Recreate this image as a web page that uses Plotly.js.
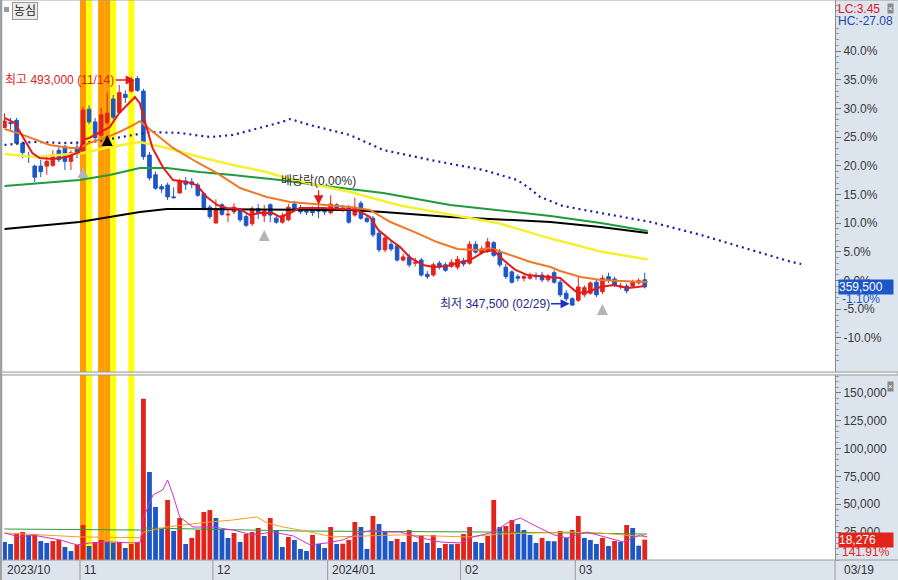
<!DOCTYPE html>
<html><head><meta charset="utf-8">
<script src="https://cdn.plot.ly/plotly-3.0.1.min.js"></script>
<style>html,body{margin:0;padding:0;background:#fff}#chart{width:898px;height:580px}</style>
</head><body><div id="chart"></div>
<script>
// ---- trading days (2023/10/13 ~ 2024/03/19) ----
const octDays=[13,16,17,18,19,20,23,24,25,26,27,30,31];
const novDays=[1,2,3,6,7,8,9,10,13,14,15,16,17,20,21,22,23,24,27,28,29,30];
const decDays=[1,4,5,6,7,8,11,12,13,14,15,18,19,20,21,22,26,27,28];
const janDays=[2,3,4,5,8,9,10,11,12,15,16,17,18,19,22,23,24,25,26,29,30,31];
const febDays=[1,2,5,6,7,8,13,14,15,16,19,20,21,22,23,26,27,28,29];
const marDays=[4,5,6,7,8,11,12,13,14,15,18,19];
const monthLabels=['2023/10','11','12','2024/01','02','03'];
const monthNums=[10,11,12,1,2,3];
const monthDays=[octDays,novDays,decDays,janDays,febDays,marDays];

// ---- daily prices (KRW) ----
const openP=[
460500,463500,465000,450500,442500,436000,436000,436000,436500,446000,
448500,439000,448000,445500,472000,464000,455500,463500,478500,470000,
481500,483500,491500,483500,443000,430500,423000,424000,416500,419000,
426500,426000,424000,418500,410000,400000,411500,405000,407000,408000,
404000,399500,409000,404500,411500,403000,400500,402000,412000,409500,
407500,409000,408000,408000,406500,411500,409500,410000,405000,412500,
403000,403000,393500,383000,386500,385500,376500,378500,374500,376500,
367500,367000,374500,373500,372500,372000,376000,374500,386500,381000,
382000,387500,381500,372000,369000,366000,365000,365000,366500,367000,
364000,368500,362500,355500,352000,351000,354500,355500,362500,356500,
366000,364500,359500,360000,360000,362000,364000];
const highP=[
469500,466500,466500,451500,445000,437000,440000,443000,446000,448000,
449500,446000,451500,473500,474500,466500,473000,482500,481000,487500,
484000,492500,493000,485000,445000,432500,424500,425500,422500,428000,
429000,428500,425500,419500,411500,415000,412500,409500,412500,409500,
405500,410500,412000,411500,412500,404500,406500,412000,414000,411500,
410000,410500,411500,410000,417500,412500,411500,411500,416000,414000,
405000,404500,395000,392000,388500,386500,380500,380500,378000,378000,
369500,375000,376000,375000,377000,379000,378000,388500,388500,385500,
390500,388500,383500,374000,370000,367500,367500,368500,368500,369000,
367500,370000,364000,357500,353000,366000,360500,363000,364500,367000,
368500,366000,362000,361500,364000,365000,368500];
const lowP=[
460000,459000,449500,441000,438000,426000,429000,430500,435500,438500,
433500,433500,441000,445000,462500,452500,454500,462000,465500,469000,
476000,482500,483000,440000,427000,421000,419000,414500,415500,418500,
421000,422000,416500,408000,402500,399500,404500,400500,405500,400500,
397500,398000,402500,400500,400500,399500,399500,401000,407000,405500,
405000,404500,403000,405000,405500,407500,407000,399500,404000,402000,
400000,391000,381500,381500,382000,375500,375500,372000,372500,366000,
364500,366000,370500,369000,371500,370500,372500,373500,380500,380000,
381000,378500,372000,364500,361500,363000,363000,364000,364000,362500,
362500,361500,353000,350500,347500,350000,353000,354500,353000,355000,
362000,359500,358000,355500,359000,361000,358500];
const closeP=[
464500,463000,450500,444500,442000,429000,432500,439000,443000,440000,
439000,444500,443500,471500,464000,454000,468500,469500,467000,482500,
479500,490500,484000,442000,428500,422000,421500,416500,416000,426500,
424500,424500,417500,409500,404000,409000,405500,405500,410000,402000,
398500,409000,406500,407500,405000,400500,404500,410000,408000,407000,
407000,406500,407500,407000,412000,409000,409000,400500,410000,403000,
401000,392500,383000,390500,383500,376500,378500,373500,375000,367000,
366000,373500,372000,370000,375000,377000,374000,386500,381500,383500,
388000,379500,373500,366000,362500,365000,366000,366000,366000,364000,
366500,362500,354500,352000,348000,359500,359000,362000,354500,365000,
363500,360500,360000,357000,362500,363500,359500];
const volume=[
16200,14400,24000,25100,22400,22900,17000,15300,17000,18000,
11700,8000,13500,31400,12600,16200,18000,16200,15300,16200,
10800,14400,16200,144600,79000,47600,28700,53900,26000,37700,
14400,19800,26900,43100,44900,37700,27800,19800,24200,16200,
23300,25100,28700,21600,37700,26900,11700,20700,18000,9900,
8100,22500,14400,10800,29600,14400,14600,18000,34100,29600,
9900,39500,32300,25100,17000,18900,16200,26900,16200,21600,
15300,22500,10800,14400,14200,14500,23300,29600,16200,15300,
21600,53900,29600,30500,35900,32300,26900,22500,15300,19800,
17000,16800,26000,19800,26900,39500,19800,18000,14400,19800,
12600,17000,16200,31400,28700,12879,18276];

// ---- indicator lines (bar position, value) ----
const ma5X=[0,1.7,4.6,5.8,8,10.3,12.4,13,14,15.8,17.4,19,20,21.6,22.4,23.4,24.5,26.2,27.9,30.2,31.8,33.5,35.2,36.8,39,40.6,42.3,44.4,45.6,47.3,48.9,52.7,58.4,60.5,61.9,63.9,65.5,67.2,69.3,71,73.3,75,77.1,79.3,80.9,82.6,84.6,86.6,89.9,92,93.7,94.9,96.5,98.7,100.8,103.2,104.8,106];
const ma5Y=[466500,463300,444300,441100,440500,441800,444900,452600,453800,457600,460700,469600,473400,479700,475900,462000,447500,435400,427200,426000,424000,416400,411400,409500,408800,405000,406300,406300,403800,406300,409500,409500,408200,403800,395500,389200,384800,377800,373400,372100,372700,374600,376500,381600,382900,376500,370200,367000,365800,365100,359400,355600,356300,359400,360700,358800,359400,360100];
const ma20X=[0,2.5,7.5,11,12.4,14,17,19,21.3,22.4,23.6,25.2,27.9,31.8,35.2,39,43.4,47.3,51.7,57.2,60.5,63.9,68.3,71.6,75,78.3,80.4,83.7,87.1,90.4,92,95.4,98.7,102,106.5];
const ma20Y=[459500,456600,449400,447500,447500,450600,454400,457600,462000,464500,460700,455700,447500,438600,431600,422100,416400,413300,412000,410100,408200,400600,393600,387900,383500,382900,384100,379700,375300,372100,369600,365800,363900,363200,362600];
const ma60X=[0,5,13,17.4,22.4,26.9,32.3,37.8,43.4,46,51.7,57.2,65.5,73.8,82,90.4,98.7,106.5];
const ma60Y=[443700,441800,444300,448100,451300,447500,441800,436700,432300,429100,424000,419600,411000,405300,399600,390100,381900,376900];
const ma120X=[0,12.4,17.4,22.4,26.9,32.3,37.8,45.6,51.7,62.7,73.8,84.9,90.4,98.7,106.5];
const ma120Y=[423400,427200,430400,434800,434800,432300,430400,427200,424000,419000,411400,407000,404400,400000,394900];
const ma240X=[0,12.4,22.4,26.9,32.3,57.2,62.7,73.8,90.4,98.7,106.5];
const ma240Y=[396200,400600,406900,408800,408800,408200,406900,403800,400600,397400,393600];
const leadX=[0,4.6,10.3,14.6,21.3,24.1,29,34,37.8,42.3,46,47.3,50.6,57.2,62.7,70.5,79.3,84.9,86.6,88.7,90.4,92.4,98.7,107,115.3,123.7,130.3,131.9];
const leadY=[449400,451300,450600,451300,455700,457600,457000,454400,455700,460100,464000,465800,462000,455700,446200,439900,433500,427200,422800,416400,414000,410800,406300,400600,392400,382900,375300,374000];
const vma5X=[0,2.5,4.7,9.2,12,14.2,17.5,21.3,22.5,23,24.6,26.2,27,28,29,31.2,34.5,37.8,41.1,44.4,47.8,49,50.6,53.4,56,58.8,61,63.3,65.5,68.3,72.1,75.4,77.6,81,83.2,85.4,87.6,91,93.1,96.4,99.8,102.4,105.3,106.4];
const vma5Y=[24200,20700,22400,18000,13500,15300,16200,15300,16000,38000,58400,62900,71800,56600,38600,29600,29600,26900,22500,25100,21600,18000,13500,15300,18000,24200,26900,25100,25100,20700,16200,15300,20700,25100,33200,37700,31400,22500,19800,25100,19800,16200,22500,20700];
const vma20X=[0,12.5,22.4,23,26.9,32.3,37.8,41.8,43.5,46.1,49,54.4,65.5,76.6,82,93.1,98.6,106.4];
const vma20Y=[24200,20700,20000,25100,29600,33200,35900,38600,33200,29600,26900,20700,22500,20700,23300,25100,24200,20700];
const vma60X=[0,22.4,23.5,49,83,106.4];
const vma60Y=[27800,26900,28700,26000,25000,23300];

// ---- signals / highlight bars ----
const orangeBars=[13,16,17];
const yellowBars=[14,18,21];
const grayUpX=[13,43,99];
const grayUpY=[435400,395500,348700];
const blackUpX=[17];
const blackUpY=[455700];
const exDivBar=52;

// ---- derived ----
const RED='#e3241b', BLUE='#1d57c7';
const n=closeP.length;
const idx=closeP.map((_,i)=>i);
const dates=[]; const monthStart=[];
monthDays.forEach((days,m)=>{monthStart.push(dates.length);days.forEach(d=>dates.push(String(monthNums[m]).padStart(2,'0')+'/'+String(d).padStart(2,'0')));});
const base=closeP[n-2], last=closeP[n-1];
const maxH=Math.max(...highP), hiIdx=highP.indexOf(maxH);
const minL=Math.min(...lowP), loIdx=lowP.indexOf(minL);
const fmt=v=>v.toLocaleString('en-US');
const volColors=volume.map((v,i)=>(i>0&&v>volume[i-1])?RED:BLUE);

const W=832,H=560;
const XMIN=-0.25, XMAX=137.5;
const px=p=>(p-3)/W;      // pixel x -> paper
const py=p=>1-p/H;        // pixel y -> paper
const xToPaper=v=>(v-XMIN)/(XMAX-XMIN);

const pcts=[40,35,30,25,20,15,10,5,0,-5,-10];
const tickvals=pcts.map(p=>base*(1+p/100));
const ticktext=pcts.map(p=>p.toFixed(1)+'%');
const minorVals=[];for(let p=-16;p<=49;p++){if(p%5!==0)minorVals.push(base*(1+p/100));}

const F='Liberation Sans, Arial, Noto Sans CJK KR, sans-serif';

const line=(x,y,color,width,dash,ax)=>({type:'scatter',mode:'lines',x,y,line:{color,width,dash:dash||'solid'},hoverinfo:'skip',xaxis:ax?'x2':'x',yaxis:ax?'y2':'y'});

const traces=[
 {type:'candlestick',x:idx,open:openP,high:highP,low:lowP,close:closeP,
  increasing:{line:{color:RED,width:1},fillcolor:RED},
  decreasing:{line:{color:BLUE,width:1},fillcolor:BLUE},
  whiskerwidth:0,hoverinfo:'skip',xaxis:'x',yaxis:'y'},
 line(leadX,leadY,'#1c1ca8',2.2,'2px,4px'),
 line(ma240X,ma240Y,'#000000',2),
 line(ma120X,ma120Y,'#1f9a3c',2),
 line(ma60X,ma60Y,'#f6f032',2.5),
 line(ma20X,ma20Y,'#f07828',2),
 line(ma5X,ma5Y,'#e41a1a',2),
 {type:'scatter',mode:'markers',x:grayUpX,y:grayUpY,marker:{symbol:'arrow-up',size:11,color:'#b4b4b4'},hoverinfo:'skip'},
 {type:'scatter',mode:'markers',x:blackUpX,y:blackUpY,marker:{symbol:'arrow-up',size:11,color:'#000'},hoverinfo:'skip'},
 {type:'bar',x:idx,y:volume,width:0.8,marker:{color:volColors,line:{width:0}},hoverinfo:'skip',xaxis:'x2',yaxis:'y2'},
 line(vma60X,vma60Y,'#2e9a40',1,null,true),
 line(vma20X,vma20Y,'#f0a020',1,null,true),
 line(vma5X,vma5Y,'#d030c8',1,null,true)
];

const shapes=[];
orangeBars.forEach(b=>shapes.push({type:'rect',xref:'x',yref:'paper',x0:b-0.5,x1:b+0.5,y0:0,y1:1,fillcolor:'#ff9c00',line:{width:0},layer:'below'}));
yellowBars.forEach(b=>shapes.push({type:'rect',xref:'x',yref:'paper',x0:b-0.5,x1:b+0.5,y0:0,y1:1,fillcolor:'#ffff10',line:{width:0},layer:'below'}));
// pane gap
shapes.push({type:'rect',xref:'paper',yref:'paper',x0:px(0),x1:px(898),y0:py(375),y1:py(372),fillcolor:'#f2f2f2',line:{color:'#9a9a9a',width:1}});
// bottom strip top line & right separator
shapes.push({type:'line',xref:'paper',yref:'paper',x0:px(0),x1:px(898),y0:0,y1:0,line:{color:'#9a9a9a',width:1}});
shapes.push({type:'line',xref:'paper',yref:'paper',x0:1,x1:1,y0:py(580),y1:0,line:{color:'#9a9a9a',width:1}});
// left border
shapes.push({type:'line',xref:'paper',yref:'paper',x0:px(1),x1:px(1),y0:py(580),y1:1,line:{color:'#a0a0a0',width:2}});
// top border
shapes.push({type:'line',xref:'paper',yref:'paper',x0:px(0),x1:px(898),y0:1,y1:1,line:{color:'#a0a0a0',width:1}});
// month separators
monthStart.forEach((s,k)=>{if(k>0)shapes.push({type:'line',xref:'paper',yref:'paper',x0:xToPaper(s-0.5),x1:xToPaper(s-0.5),y0:py(580),y1:0,line:{color:'#9a9a9a',width:1}});});
// tiny icon at top left
shapes.push({type:'rect',xref:'paper',yref:'paper',x0:px(4),x1:px(9),y0:py(12),y1:py(7),fillcolor:'#9a9a9a',line:{width:0}});

const annotations=[];
monthStart.forEach((s,k)=>annotations.push({xref:'paper',yref:'paper',x:Math.max(xToPaper(s-0.5),0),y:py(570),xanchor:'left',yanchor:'middle',xshift:2,text:monthLabels[k],showarrow:false,font:{family:F,size:12,color:'#333'}}));
annotations.push({xref:'paper',yref:'paper',x:px(842),y:py(570),xanchor:'left',yanchor:'middle',text:dates[n-1],showarrow:false,font:{family:F,size:12,color:'#333'}});
annotations.push({xref:'paper',yref:'paper',x:px(12),y:py(2),xanchor:'left',yanchor:'top',text:'농심',showarrow:false,bgcolor:'#ececec',bordercolor:'#9a9a9a',borderwidth:1,borderpad:1,font:{family:F,size:12,color:'#222'}});
annotations.push({xref:'paper',yref:'paper',x:px(836),y:py(9),xanchor:'left',yanchor:'middle',text:'LC:'+((last/minL-1)*100).toFixed(2),showarrow:false,font:{family:F,size:12,color:'#e01818'}});
annotations.push({xref:'paper',yref:'paper',x:px(836),y:py(21),xanchor:'left',yanchor:'middle',text:'HC:'+((last/maxH-1)*100).toFixed(2),showarrow:false,font:{family:F,size:12,color:'#2048b0'}});
// current price box
annotations.push({xref:'paper',yref:'y',x:px(838),y:last,xanchor:'left',yanchor:'middle',text:fmt(last),width:54,align:'left',borderpad:0,bgcolor:BLUE,showarrow:false,font:{family:F,size:12,color:'#fff'}});
annotations.push({xref:'paper',yref:'y',x:px(840),y:last,yshift:-12,xanchor:'left',yanchor:'middle',text:((last/base-1)*100).toFixed(2)+'%',showarrow:false,font:{family:F,size:12,color:BLUE}});
// volume box
const lv=volume[n-1], pv=volume[n-2];
annotations.push({xref:'paper',yref:'y2',x:px(838),y:lv,xanchor:'left',yanchor:'middle',text:fmt(lv),width:54,align:'left',borderpad:0,bgcolor:RED,showarrow:false,font:{family:F,size:12,color:'#fff'}});
annotations.push({xref:'paper',yref:'y2',x:px(840),y:lv,yshift:-12,xanchor:'left',yanchor:'middle',text:(lv/pv*100).toFixed(2)+'%',showarrow:false,font:{family:F,size:12,color:RED}});
// close icons
[3,381].forEach(t=>annotations.push({xref:'paper',yref:'paper',x:px(887),y:py(t),xanchor:'left',yanchor:'top',text:'×',showarrow:false,bgcolor:'#8a8a8a',borderpad:0,font:{family:F,size:8,color:'#fff'}}));
// high / low labels
annotations.push({xref:'x',yref:'y',x:hiIdx-0.45,y:maxH,yshift:-4,ax:-75,ay:0,text:'최고 '+fmt(maxH)+' ('+dates[hiIdx]+')',showarrow:true,arrowhead:2,arrowsize:1.2,arrowwidth:1.5,arrowcolor:'#e01818',font:{family:F,size:12,color:'#d81e1e'}});
annotations.push({xref:'x',yref:'y',x:loIdx-0.45,y:minL,yshift:2,ax:-75,ay:0,text:'최저 '+fmt(minL)+' ('+dates[loIdx]+')',showarrow:true,arrowhead:2,arrowsize:1.2,arrowwidth:1.5,arrowcolor:'#1b2fd0',font:{family:F,size:12,color:'#1e2a8c'}});
// ex-dividend
annotations.push({xref:'x',yref:'y',x:exDivBar,y:highP[exDivBar],yshift:24,xanchor:'center',yanchor:'middle',text:'배당락(0.00%)',showarrow:false,font:{family:F,size:12,color:'#333'}});
annotations.push({xref:'x',yref:'y',x:exDivBar,y:highP[exDivBar],yshift:0,ax:0,ay:-16,text:'',showarrow:true,arrowhead:2,arrowsize:1.6,arrowwidth:1.2,arrowcolor:'#e01818'});

const axFont={family:F,size:12,color:'#3a3a3a'};
const layout={
 width:898,height:580,margin:{l:3,r:63,t:0,b:20},
 paper_bgcolor:'#dce4ee',plot_bgcolor:'#ffffff',showlegend:false,
 boxgap:0.15,bargap:0.2,
 xaxis:{domain:[0,1],range:[XMIN,XMAX],anchor:'y',visible:false,showgrid:false,zeroline:false,rangeslider:{visible:false},fixedrange:true},
 xaxis2:{domain:[0,1],matches:'x',anchor:'y2',visible:false,showgrid:false,zeroline:false,fixedrange:true},
 yaxis:{domain:[188/560,1],range:[305600,541200],side:'right',tickmode:'array',tickvals,ticktext,ticks:'outside',ticklen:5,tickcolor:'#777',
  showline:true,linecolor:'#8a8a8a',linewidth:1,showgrid:false,zeroline:false,tickfont:axFont,
  minor:{tickvals:minorVals,ticks:'outside',ticklen:3,tickcolor:'#999'},fixedrange:true},
 yaxis2:{domain:[0,185/560],range:[0,166000],side:'right',tickmode:'array',tickvals:[25000,50000,75000,100000,125000,150000],
  ticktext:[25000,50000,75000,100000,125000,150000].map(fmt),ticks:'outside',ticklen:5,tickcolor:'#777',
  showline:true,linecolor:'#8a8a8a',linewidth:1,showgrid:false,zeroline:false,tickfont:axFont,
  minor:{dtick:5000,tick0:0,ticks:'outside',ticklen:3,tickcolor:'#999'},fixedrange:true},
 shapes,annotations
};
Plotly.newPlot('chart',traces,layout,{staticPlot:true,displayModeBar:false});
</script></body></html>
